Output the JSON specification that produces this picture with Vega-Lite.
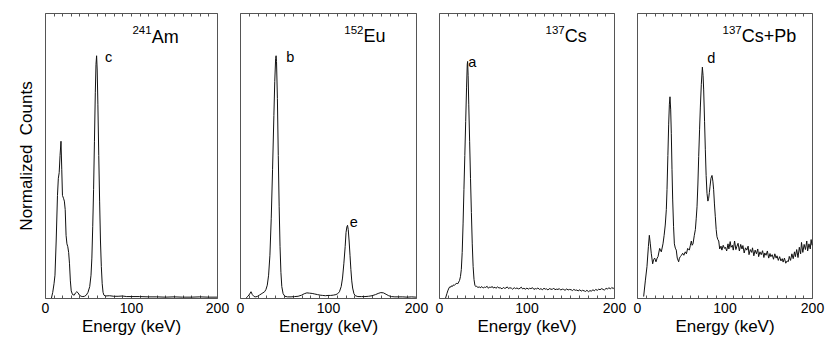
{
"$schema": "https://vega.github.io/schema/vega-lite/v6.json",
"padding": {"left": 16, "top": 12, "right": 0, "bottom": 0},
"config": {
  "font": "Liberation Sans",
  "view": {"stroke": "#555", "strokeWidth": 1},
  "axis": {"labelFont": "Liberation Sans", "titleFont": "Liberation Sans", "labelColor": "black", "titleColor": "black", "titleFontWeight": "normal", "labelFontSize": 14, "titleFontSize": 17, "grid": false, "domain": false},
  "axisBottom": {"titleFontWeight": "normal"},
  "text": {"font": "Liberation Sans", "color": "black"}
},
"datasets": {
  "labels": [
    {"panel": "Am", "x": 124, "y": 0.895, "sup": "241", "main": "Am"},
    {"panel": "Eu", "x": 140.3, "y": 0.897, "sup": "152", "main": "Eu"},
    {"panel": "Cs", "x": 143.7, "y": 0.897, "sup": "137", "main": "Cs"},
    {"panel": "CsPb", "x": 119.7, "y": 0.898, "sup": "137", "main": "Cs+Pb"}
  ],
  "peaks": [
    {"panel": "Am", "x": 69.8, "y": 0.828, "tag": "c"},
    {"panel": "Eu", "x": 52.5, "y": 0.828, "tag": "b"},
    {"panel": "Eu", "x": 124.7, "y": 0.249, "tag": "e"},
    {"panel": "Cs", "x": 33.4, "y": 0.81, "tag": "a"},
    {"panel": "CsPb", "x": 80.3, "y": 0.826, "tag": "d"}
  ],
  "spectra": [
    {"panel":"Am","energy":7.5,"counts":0.0},
    {"panel":"Am","energy":9,"counts":0.02},
    {"panel":"Am","energy":10.5,"counts":0.05},
    {"panel":"Am","energy":11.6,"counts":0.08},
    {"panel":"Am","energy":13,"counts":0.2},
    {"panel":"Am","energy":14.5,"counts":0.36},
    {"panel":"Am","energy":15.5,"counts":0.42},
    {"panel":"Am","energy":16.5,"counts":0.44},
    {"panel":"Am","energy":17.5,"counts":0.5},
    {"panel":"Am","energy":18.6,"counts":0.55},
    {"panel":"Am","energy":19.5,"counts":0.45},
    {"panel":"Am","energy":20.3,"counts":0.36},
    {"panel":"Am","energy":21.5,"counts":0.35},
    {"panel":"Am","energy":22.5,"counts":0.34},
    {"panel":"Am","energy":23.5,"counts":0.31},
    {"panel":"Am","energy":24.5,"counts":0.22},
    {"panel":"Am","energy":25.5,"counts":0.19},
    {"panel":"Am","energy":26.5,"counts":0.18},
    {"panel":"Am","energy":27.5,"counts":0.16},
    {"panel":"Am","energy":28.5,"counts":0.12},
    {"panel":"Am","energy":29.5,"counts":0.06},
    {"panel":"Am","energy":30.5,"counts":0.025},
    {"panel":"Am","energy":32,"counts":0.012},
    {"panel":"Am","energy":34,"counts":0.01},
    {"panel":"Am","energy":35.5,"counts":0.018},
    {"panel":"Am","energy":37,"counts":0.022},
    {"panel":"Am","energy":38.5,"counts":0.018},
    {"panel":"Am","energy":40,"counts":0.01},
    {"panel":"Am","energy":42,"counts":0.006},
    {"panel":"Am","energy":44,"counts":0.005},
    {"panel":"Am","energy":46,"counts":0.006},
    {"panel":"Am","energy":48,"counts":0.01},
    {"panel":"Am","energy":50,"counts":0.02},
    {"panel":"Am","energy":52,"counts":0.04},
    {"panel":"Am","energy":53.5,"counts":0.08},
    {"panel":"Am","energy":54.5,"counts":0.14},
    {"panel":"Am","energy":55.5,"counts":0.25},
    {"panel":"Am","energy":56.5,"counts":0.38},
    {"panel":"Am","energy":57.5,"counts":0.55},
    {"panel":"Am","energy":58.5,"counts":0.72},
    {"panel":"Am","energy":59.3,"counts":0.82},
    {"panel":"Am","energy":60,"counts":0.85},
    {"panel":"Am","energy":60.7,"counts":0.8},
    {"panel":"Am","energy":61.5,"counts":0.68},
    {"panel":"Am","energy":62.5,"counts":0.5},
    {"panel":"Am","energy":63.5,"counts":0.34},
    {"panel":"Am","energy":64.5,"counts":0.2},
    {"panel":"Am","energy":65.5,"counts":0.11},
    {"panel":"Am","energy":66.5,"counts":0.05},
    {"panel":"Am","energy":67.5,"counts":0.02},
    {"panel":"Am","energy":68.5,"counts":0.01},
    {"panel":"Am","energy":70,"counts":0.007},
    {"panel":"Am","energy":75,"counts":0.008},
    {"panel":"Am","energy":80,"counts":0.006},
    {"panel":"Am","energy":85,"counts":0.006},
    {"panel":"Am","energy":90,"counts":0.007},
    {"panel":"Am","energy":95,"counts":0.005},
    {"panel":"Am","energy":100,"counts":0.005},
    {"panel":"Am","energy":110,"counts":0.005},
    {"panel":"Am","energy":120,"counts":0.004},
    {"panel":"Am","energy":130,"counts":0.004},
    {"panel":"Am","energy":140,"counts":0.003},
    {"panel":"Am","energy":150,"counts":0.004},
    {"panel":"Am","energy":160,"counts":0.003},
    {"panel":"Am","energy":170,"counts":0.003},
    {"panel":"Am","energy":180,"counts":0.004},
    {"panel":"Am","energy":190,"counts":0.003},
    {"panel":"Am","energy":200,"counts":0.003},

    {"panel":"Eu","energy":7,"counts":0.0},
    {"panel":"Eu","energy":9,"counts":0.006},
    {"panel":"Eu","energy":11,"counts":0.014},
    {"panel":"Eu","energy":12.5,"counts":0.022},
    {"panel":"Eu","energy":14,"counts":0.012},
    {"panel":"Eu","energy":16,"counts":0.005},
    {"panel":"Eu","energy":18,"counts":0.004},
    {"panel":"Eu","energy":20,"counts":0.006},
    {"panel":"Eu","energy":22,"counts":0.01},
    {"panel":"Eu","energy":24,"counts":0.014},
    {"panel":"Eu","energy":26,"counts":0.018},
    {"panel":"Eu","energy":28,"counts":0.022},
    {"panel":"Eu","energy":29.5,"counts":0.03},
    {"panel":"Eu","energy":31,"counts":0.045},
    {"panel":"Eu","energy":32.5,"counts":0.08},
    {"panel":"Eu","energy":34,"counts":0.15},
    {"panel":"Eu","energy":35.5,"counts":0.28},
    {"panel":"Eu","energy":37,"counts":0.45},
    {"panel":"Eu","energy":38.5,"counts":0.64},
    {"panel":"Eu","energy":39.5,"counts":0.76},
    {"panel":"Eu","energy":40.5,"counts":0.84},
    {"panel":"Eu","energy":41,"counts":0.85},
    {"panel":"Eu","energy":41.5,"counts":0.83},
    {"panel":"Eu","energy":42.5,"counts":0.7},
    {"panel":"Eu","energy":43.5,"counts":0.5},
    {"panel":"Eu","energy":44.5,"counts":0.32},
    {"panel":"Eu","energy":45.5,"counts":0.18},
    {"panel":"Eu","energy":46.5,"counts":0.09},
    {"panel":"Eu","energy":47.5,"counts":0.04},
    {"panel":"Eu","energy":49,"counts":0.015},
    {"panel":"Eu","energy":51,"counts":0.006},
    {"panel":"Eu","energy":54,"counts":0.004},
    {"panel":"Eu","energy":58,"counts":0.004},
    {"panel":"Eu","energy":62,"counts":0.005},
    {"panel":"Eu","energy":66,"counts":0.006},
    {"panel":"Eu","energy":70,"counts":0.01},
    {"panel":"Eu","energy":73,"counts":0.015},
    {"panel":"Eu","energy":76,"counts":0.018},
    {"panel":"Eu","energy":79,"counts":0.017},
    {"panel":"Eu","energy":82,"counts":0.016},
    {"panel":"Eu","energy":85,"counts":0.014},
    {"panel":"Eu","energy":88,"counts":0.012},
    {"panel":"Eu","energy":91,"counts":0.01},
    {"panel":"Eu","energy":94,"counts":0.009},
    {"panel":"Eu","energy":97,"counts":0.008},
    {"panel":"Eu","energy":100,"counts":0.009},
    {"panel":"Eu","energy":103,"counts":0.009},
    {"panel":"Eu","energy":106,"counts":0.01},
    {"panel":"Eu","energy":109,"counts":0.012},
    {"panel":"Eu","energy":111,"counts":0.015},
    {"panel":"Eu","energy":113,"counts":0.022},
    {"panel":"Eu","energy":115,"counts":0.04},
    {"panel":"Eu","energy":116.5,"counts":0.07},
    {"panel":"Eu","energy":118,"counts":0.12},
    {"panel":"Eu","energy":119.5,"counts":0.18},
    {"panel":"Eu","energy":120.5,"counts":0.23},
    {"panel":"Eu","energy":121.5,"counts":0.25},
    {"panel":"Eu","energy":122.2,"counts":0.255},
    {"panel":"Eu","energy":123,"counts":0.24},
    {"panel":"Eu","energy":124,"counts":0.2},
    {"panel":"Eu","energy":125,"counts":0.15},
    {"panel":"Eu","energy":126,"counts":0.1},
    {"panel":"Eu","energy":127,"counts":0.06},
    {"panel":"Eu","energy":128,"counts":0.035},
    {"panel":"Eu","energy":129.5,"counts":0.015},
    {"panel":"Eu","energy":131,"counts":0.008},
    {"panel":"Eu","energy":134,"counts":0.005},
    {"panel":"Eu","energy":138,"counts":0.005},
    {"panel":"Eu","energy":142,"counts":0.005},
    {"panel":"Eu","energy":146,"counts":0.006},
    {"panel":"Eu","energy":150,"counts":0.008},
    {"panel":"Eu","energy":154,"counts":0.012},
    {"panel":"Eu","energy":157,"counts":0.016},
    {"panel":"Eu","energy":160,"counts":0.019},
    {"panel":"Eu","energy":163,"counts":0.018},
    {"panel":"Eu","energy":166,"counts":0.013},
    {"panel":"Eu","energy":169,"counts":0.008},
    {"panel":"Eu","energy":172,"counts":0.005},
    {"panel":"Eu","energy":176,"counts":0.004},
    {"panel":"Eu","energy":180,"counts":0.004},
    {"panel":"Eu","energy":185,"counts":0.004},
    {"panel":"Eu","energy":190,"counts":0.003},
    {"panel":"Eu","energy":195,"counts":0.004},
    {"panel":"Eu","energy":200,"counts":0.003},

    {"panel":"Cs","energy":7.5,"counts":0.0},
    {"panel":"Cs","energy":9,"counts":0.015},
    {"panel":"Cs","energy":10,"counts":0.025},
    {"panel":"Cs","energy":11.4,"counts":0.035},
    {"panel":"Cs","energy":12.5,"counts":0.04},
    {"panel":"Cs","energy":13.5,"counts":0.038},
    {"panel":"Cs","energy":14.5,"counts":0.043},
    {"panel":"Cs","energy":15.5,"counts":0.041},
    {"panel":"Cs","energy":16.5,"counts":0.046},
    {"panel":"Cs","energy":17.5,"counts":0.044},
    {"panel":"Cs","energy":18.5,"counts":0.048},
    {"panel":"Cs","energy":19.5,"counts":0.05},
    {"panel":"Cs","energy":20.5,"counts":0.052},
    {"panel":"Cs","energy":21.5,"counts":0.05},
    {"panel":"Cs","energy":22.5,"counts":0.056},
    {"panel":"Cs","energy":23.5,"counts":0.062},
    {"panel":"Cs","energy":24.5,"counts":0.075},
    {"panel":"Cs","energy":25.5,"counts":0.1},
    {"panel":"Cs","energy":26.5,"counts":0.16},
    {"panel":"Cs","energy":27.5,"counts":0.26},
    {"panel":"Cs","energy":28.5,"counts":0.38},
    {"panel":"Cs","energy":29.5,"counts":0.5},
    {"panel":"Cs","energy":30.5,"counts":0.62},
    {"panel":"Cs","energy":31.5,"counts":0.74},
    {"panel":"Cs","energy":32.3,"counts":0.82},
    {"panel":"Cs","energy":32.7,"counts":0.83},
    {"panel":"Cs","energy":33.3,"counts":0.78},
    {"panel":"Cs","energy":34,"counts":0.68},
    {"panel":"Cs","energy":35,"counts":0.55},
    {"panel":"Cs","energy":36,"counts":0.42},
    {"panel":"Cs","energy":37,"counts":0.3},
    {"panel":"Cs","energy":38,"counts":0.19},
    {"panel":"Cs","energy":39,"counts":0.11},
    {"panel":"Cs","energy":40,"counts":0.065},
    {"panel":"Cs","energy":41,"counts":0.045},
    {"panel":"Cs","energy":42,"counts":0.04},
    {"panel":"Cs","energy":43,"counts":0.041},
    {"panel":"Cs","energy":44.5,"counts":0.037},
    {"panel":"Cs","energy":46,"counts":0.039},
    {"panel":"Cs","energy":47,"counts":0.036},
    {"panel":"Cs","energy":49,"counts":0.04},
    {"panel":"Cs","energy":50.5,"counts":0.035},
    {"panel":"Cs","energy":52,"counts":0.038},
    {"panel":"Cs","energy":53,"counts":0.037},
    {"panel":"Cs","energy":55,"counts":0.041},
    {"panel":"Cs","energy":56.5,"counts":0.034},
    {"panel":"Cs","energy":58,"counts":0.039},
    {"panel":"Cs","energy":59,"counts":0.037},
    {"panel":"Cs","energy":61,"counts":0.04},
    {"panel":"Cs","energy":62,"counts":0.035},
    {"panel":"Cs","energy":64,"counts":0.038},
    {"panel":"Cs","energy":65,"counts":0.034},
    {"panel":"Cs","energy":67,"counts":0.039},
    {"panel":"Cs","energy":68.5,"counts":0.035},
    {"panel":"Cs","energy":70,"counts":0.036},
    {"panel":"Cs","energy":72,"counts":0.032},
    {"panel":"Cs","energy":73.5,"counts":0.037},
    {"panel":"Cs","energy":75,"counts":0.034},
    {"panel":"Cs","energy":76.5,"counts":0.035},
    {"panel":"Cs","energy":78,"counts":0.039},
    {"panel":"Cs","energy":79.5,"counts":0.033},
    {"panel":"Cs","energy":81,"counts":0.036},
    {"panel":"Cs","energy":83,"counts":0.034},
    {"panel":"Cs","energy":84,"counts":0.031},
    {"panel":"Cs","energy":86,"counts":0.036},
    {"panel":"Cs","energy":87.5,"counts":0.033},
    {"panel":"Cs","energy":89,"counts":0.035},
    {"panel":"Cs","energy":91,"counts":0.032},
    {"panel":"Cs","energy":92.5,"counts":0.034},
    {"panel":"Cs","energy":94,"counts":0.038},
    {"panel":"Cs","energy":95.5,"counts":0.032},
    {"panel":"Cs","energy":97,"counts":0.034},
    {"panel":"Cs","energy":99,"counts":0.031},
    {"panel":"Cs","energy":100.5,"counts":0.035},
    {"panel":"Cs","energy":102,"counts":0.031},
    {"panel":"Cs","energy":103.5,"counts":0.034},
    {"panel":"Cs","energy":105,"counts":0.033},
    {"panel":"Cs","energy":107,"counts":0.036},
    {"panel":"Cs","energy":108.5,"counts":0.03},
    {"panel":"Cs","energy":110,"counts":0.033},
    {"panel":"Cs","energy":111.5,"counts":0.032},
    {"panel":"Cs","energy":113,"counts":0.035},
    {"panel":"Cs","energy":115,"counts":0.03},
    {"panel":"Cs","energy":116.5,"counts":0.033},
    {"panel":"Cs","energy":118,"counts":0.029},
    {"panel":"Cs","energy":120,"counts":0.034},
    {"panel":"Cs","energy":121.5,"counts":0.031},
    {"panel":"Cs","energy":123,"counts":0.032},
    {"panel":"Cs","energy":124.5,"counts":0.028},
    {"panel":"Cs","energy":126,"counts":0.033},
    {"panel":"Cs","energy":128,"counts":0.031},
    {"panel":"Cs","energy":129.5,"counts":0.03},
    {"panel":"Cs","energy":131,"counts":0.035},
    {"panel":"Cs","energy":132.5,"counts":0.029},
    {"panel":"Cs","energy":134,"counts":0.031},
    {"panel":"Cs","energy":136,"counts":0.03},
    {"panel":"Cs","energy":137.5,"counts":0.033},
    {"panel":"Cs","energy":139,"counts":0.028},
    {"panel":"Cs","energy":141,"counts":0.031},
    {"panel":"Cs","energy":142.5,"counts":0.03},
    {"panel":"Cs","energy":144,"counts":0.027},
    {"panel":"Cs","energy":146,"counts":0.032},
    {"panel":"Cs","energy":147.5,"counts":0.028},
    {"panel":"Cs","energy":149,"counts":0.03},
    {"panel":"Cs","energy":151,"counts":0.029},
    {"panel":"Cs","energy":152.5,"counts":0.026},
    {"panel":"Cs","energy":154,"counts":0.03},
    {"panel":"Cs","energy":156,"counts":0.027},
    {"panel":"Cs","energy":157.5,"counts":0.028},
    {"panel":"Cs","energy":159,"counts":0.025},
    {"panel":"Cs","energy":161,"counts":0.029},
    {"panel":"Cs","energy":162.5,"counts":0.024},
    {"panel":"Cs","energy":164,"counts":0.027},
    {"panel":"Cs","energy":166,"counts":0.025},
    {"panel":"Cs","energy":167.5,"counts":0.023},
    {"panel":"Cs","energy":169,"counts":0.027},
    {"panel":"Cs","energy":171,"counts":0.022},
    {"panel":"Cs","energy":172.5,"counts":0.026},
    {"panel":"Cs","energy":174,"counts":0.024},
    {"panel":"Cs","energy":176,"counts":0.029},
    {"panel":"Cs","energy":177.5,"counts":0.025},
    {"panel":"Cs","energy":179,"counts":0.03},
    {"panel":"Cs","energy":181,"counts":0.027},
    {"panel":"Cs","energy":182.5,"counts":0.031},
    {"panel":"Cs","energy":184,"counts":0.029},
    {"panel":"Cs","energy":186,"counts":0.033},
    {"panel":"Cs","energy":187.5,"counts":0.03},
    {"panel":"Cs","energy":189,"counts":0.028},
    {"panel":"Cs","energy":191,"counts":0.034},
    {"panel":"Cs","energy":192.5,"counts":0.031},
    {"panel":"Cs","energy":194,"counts":0.036},
    {"panel":"Cs","energy":196,"counts":0.032},
    {"panel":"Cs","energy":197.5,"counts":0.037},
    {"panel":"Cs","energy":199,"counts":0.033},
    {"panel":"Cs","energy":200,"counts":0.036},

    {"panel":"CsPb","energy":7.6,"counts":0.005},
    {"panel":"CsPb","energy":9.5,"counts":0.06},
    {"panel":"CsPb","energy":11.4,"counts":0.11},
    {"panel":"CsPb","energy":13,"counts":0.18},
    {"panel":"CsPb","energy":14.1,"counts":0.22},
    {"panel":"CsPb","energy":15.2,"counts":0.19},
    {"panel":"CsPb","energy":16.3,"counts":0.157},
    {"panel":"CsPb","energy":17.9,"counts":0.12},
    {"panel":"CsPb","energy":19,"counts":0.135},
    {"panel":"CsPb","energy":20.2,"counts":0.14},
    {"panel":"CsPb","energy":21.7,"counts":0.127},
    {"panel":"CsPb","energy":23,"counts":0.14},
    {"panel":"CsPb","energy":24,"counts":0.145},
    {"panel":"CsPb","energy":25.9,"counts":0.174},
    {"panel":"CsPb","energy":27.8,"counts":0.162},
    {"panel":"CsPb","energy":29.7,"counts":0.19},
    {"panel":"CsPb","energy":31,"counts":0.22},
    {"panel":"CsPb","energy":32.3,"counts":0.256},
    {"panel":"CsPb","energy":33.5,"counts":0.31},
    {"panel":"CsPb","energy":34.3,"counts":0.38},
    {"panel":"CsPb","energy":35.3,"counts":0.5},
    {"panel":"CsPb","energy":36.2,"counts":0.61},
    {"panel":"CsPb","energy":37,"counts":0.68},
    {"panel":"CsPb","energy":37.7,"counts":0.706},
    {"panel":"CsPb","energy":38.5,"counts":0.66},
    {"panel":"CsPb","energy":39.2,"counts":0.578},
    {"panel":"CsPb","energy":40,"counts":0.45},
    {"panel":"CsPb","energy":40.8,"counts":0.344},
    {"panel":"CsPb","energy":41.8,"counts":0.25},
    {"panel":"CsPb","energy":42.7,"counts":0.19},
    {"panel":"CsPb","energy":43.8,"counts":0.175},
    {"panel":"CsPb","energy":44.9,"counts":0.168},
    {"panel":"CsPb","energy":46,"counts":0.14},
    {"panel":"CsPb","energy":47.6,"counts":0.127},
    {"panel":"CsPb","energy":48.5,"counts":0.14},
    {"panel":"CsPb","energy":49.5,"counts":0.145},
    {"panel":"CsPb","energy":50.8,"counts":0.15},
    {"panel":"CsPb","energy":52.2,"counts":0.157},
    {"panel":"CsPb","energy":53.5,"counts":0.15},
    {"panel":"CsPb","energy":55.2,"counts":0.162},
    {"panel":"CsPb","energy":56.5,"counts":0.155},
    {"panel":"CsPb","energy":57.9,"counts":0.174},
    {"panel":"CsPb","energy":59.8,"counts":0.168},
    {"panel":"CsPb","energy":61,"counts":0.185},
    {"panel":"CsPb","energy":62.1,"counts":0.2},
    {"panel":"CsPb","energy":63,"counts":0.185},
    {"panel":"CsPb","energy":64,"counts":0.19},
    {"panel":"CsPb","energy":65.5,"counts":0.22},
    {"panel":"CsPb","energy":66.7,"counts":0.24},
    {"panel":"CsPb","energy":67.7,"counts":0.28},
    {"panel":"CsPb","energy":68.6,"counts":0.32},
    {"panel":"CsPb","energy":69.6,"counts":0.4},
    {"panel":"CsPb","energy":70.5,"counts":0.496},
    {"panel":"CsPb","energy":71.5,"counts":0.59},
    {"panel":"CsPb","energy":72.4,"counts":0.67},
    {"panel":"CsPb","energy":73.5,"counts":0.75},
    {"panel":"CsPb","energy":74.7,"counts":0.81},
    {"panel":"CsPb","energy":75.5,"counts":0.78},
    {"panel":"CsPb","energy":76.2,"counts":0.73},
    {"panel":"CsPb","energy":77.2,"counts":0.62},
    {"panel":"CsPb","energy":78.1,"counts":0.52},
    {"panel":"CsPb","energy":79,"counts":0.43},
    {"panel":"CsPb","energy":80,"counts":0.367},
    {"panel":"CsPb","energy":81,"counts":0.34},
    {"panel":"CsPb","energy":81.9,"counts":0.35},
    {"panel":"CsPb","energy":82.7,"counts":0.37},
    {"panel":"CsPb","energy":83.4,"counts":0.39},
    {"panel":"CsPb","energy":84.5,"counts":0.42},
    {"panel":"CsPb","energy":85.7,"counts":0.43},
    {"panel":"CsPb","energy":86.7,"counts":0.41},
    {"panel":"CsPb","energy":87.6,"counts":0.38},
    {"panel":"CsPb","energy":88.5,"counts":0.33},
    {"panel":"CsPb","energy":89.5,"counts":0.285},
    {"panel":"CsPb","energy":90.5,"counts":0.24},
    {"panel":"CsPb","energy":91.4,"counts":0.215},
    {"panel":"CsPb","energy":92.4,"counts":0.205},
    {"panel":"CsPb","energy":93.4,"counts":0.2},
    {"panel":"CsPb","energy":94.5,"counts":0.172},
    {"panel":"CsPb","energy":96,"counts":0.182},
    {"panel":"CsPb","energy":97,"counts":0.168},
    {"panel":"CsPb","energy":98.5,"counts":0.185},
    {"panel":"CsPb","energy":100,"counts":0.174},
    {"panel":"CsPb","energy":101,"counts":0.178},
    {"panel":"CsPb","energy":102.5,"counts":0.165},
    {"panel":"CsPb","energy":104,"counts":0.19},
    {"panel":"CsPb","energy":105,"counts":0.172},
    {"panel":"CsPb","energy":106.5,"counts":0.198},
    {"panel":"CsPb","energy":107.5,"counts":0.178},
    {"panel":"CsPb","energy":109,"counts":0.185},
    {"panel":"CsPb","energy":110,"counts":0.168},
    {"panel":"CsPb","energy":111.5,"counts":0.2},
    {"panel":"CsPb","energy":113,"counts":0.17},
    {"panel":"CsPb","energy":114,"counts":0.18},
    {"panel":"CsPb","energy":115.5,"counts":0.192},
    {"panel":"CsPb","energy":117,"counts":0.165},
    {"panel":"CsPb","energy":118.5,"counts":0.188},
    {"panel":"CsPb","energy":120,"counts":0.172},
    {"panel":"CsPb","energy":121,"counts":0.184},
    {"panel":"CsPb","energy":122.5,"counts":0.158},
    {"panel":"CsPb","energy":124,"counts":0.176},
    {"panel":"CsPb","energy":125.5,"counts":0.168},
    {"panel":"CsPb","energy":127,"counts":0.182},
    {"panel":"CsPb","energy":128,"counts":0.152},
    {"panel":"CsPb","energy":129.5,"counts":0.17},
    {"panel":"CsPb","energy":131,"counts":0.16},
    {"panel":"CsPb","energy":132,"counts":0.176},
    {"panel":"CsPb","energy":133.5,"counts":0.148},
    {"panel":"CsPb","energy":135,"counts":0.168},
    {"panel":"CsPb","energy":136.5,"counts":0.155},
    {"panel":"CsPb","energy":138,"counts":0.172},
    {"panel":"CsPb","energy":139,"counts":0.145},
    {"panel":"CsPb","energy":140.5,"counts":0.162},
    {"panel":"CsPb","energy":142,"counts":0.152},
    {"panel":"CsPb","energy":143.5,"counts":0.166},
    {"panel":"CsPb","energy":145,"counts":0.142},
    {"panel":"CsPb","energy":146,"counts":0.158},
    {"panel":"CsPb","energy":147.5,"counts":0.15},
    {"panel":"CsPb","energy":149,"counts":0.165},
    {"panel":"CsPb","energy":150.5,"counts":0.14},
    {"panel":"CsPb","energy":152,"counts":0.156},
    {"panel":"CsPb","energy":153,"counts":0.145},
    {"panel":"CsPb","energy":154.5,"counts":0.152},
    {"panel":"CsPb","energy":156,"counts":0.136},
    {"panel":"CsPb","energy":157.5,"counts":0.155},
    {"panel":"CsPb","energy":159,"counts":0.14},
    {"panel":"CsPb","energy":160,"counts":0.148},
    {"panel":"CsPb","energy":161.5,"counts":0.132},
    {"panel":"CsPb","energy":163,"counts":0.145},
    {"panel":"CsPb","energy":164.5,"counts":0.13},
    {"panel":"CsPb","energy":166,"counts":0.138},
    {"panel":"CsPb","energy":167,"counts":0.126},
    {"panel":"CsPb","energy":168.5,"counts":0.14},
    {"panel":"CsPb","energy":170,"counts":0.122},
    {"panel":"CsPb","energy":171.5,"counts":0.13},
    {"panel":"CsPb","energy":173,"counts":0.128},
    {"panel":"CsPb","energy":174,"counts":0.146},
    {"panel":"CsPb","energy":175.5,"counts":0.132},
    {"panel":"CsPb","energy":177,"counts":0.155},
    {"panel":"CsPb","energy":178.5,"counts":0.138},
    {"panel":"CsPb","energy":180,"counts":0.162},
    {"panel":"CsPb","energy":181,"counts":0.145},
    {"panel":"CsPb","energy":182.5,"counts":0.17},
    {"panel":"CsPb","energy":184,"counts":0.142},
    {"panel":"CsPb","energy":185.5,"counts":0.178},
    {"panel":"CsPb","energy":187,"counts":0.155},
    {"panel":"CsPb","energy":188,"counts":0.195},
    {"panel":"CsPb","energy":189.5,"counts":0.16},
    {"panel":"CsPb","energy":191,"counts":0.188},
    {"panel":"CsPb","energy":192.5,"counts":0.17},
    {"panel":"CsPb","energy":194,"counts":0.2},
    {"panel":"CsPb","energy":195,"counts":0.165},
    {"panel":"CsPb","energy":196.5,"counts":0.19},
    {"panel":"CsPb","energy":198,"counts":0.172},
    {"panel":"CsPb","energy":199,"counts":0.205},
    {"panel":"CsPb","energy":200,"counts":0.185}
  ]
},
"bounds": "flush",
"spacing": 23,
"hconcat": [
  {"width": 172, "height": 285,
   "resolve": {"axis": {"x": "independent", "y": "independent"}},
   "layer": [
    {"data": {"name": "spectra"}, "transform": [{"filter": "datum.panel === 'Am'"}],
     "mark": {"type": "line", "color": "#111", "strokeWidth": 1},
     "encoding": {
      "x": {"field": "energy", "type": "quantitative", "scale": {"domain": [0, 200], "nice": false},
            "axis": {"orient": "bottom", "title": "Energy (keV)", "titleFontWeight": "normal", "values": [0,10,20,30,40,50,60,70,80,90,100,110,120,130,140,150,160,170,180,190,200], "labelExpr": "datum.value % 100 === 0 ? datum.label : ''", "labelFlush": false, "labelOverlap": false, "tickSize": -3, "tickColor": "#555", "labelPadding": 6, "titlePadding": 3}},
      "y": {"field": "counts", "type": "quantitative", "scale": {"domain": [0, 1], "nice": false},
            "axis": {"title": "Normalized\u00a0 Counts", "titleFontWeight": "normal", "labels": false, "ticks": false, "titlePadding": 10}}}},
    {"data": {"name": "spectra"}, "transform": [{"filter": "datum.panel === 'Am'"}],
     "mark": {"type": "line", "opacity": 0},
     "encoding": {
      "x": {"field": "energy", "type": "quantitative", "scale": {"domain": [0, 200], "nice": false},
            "axis": {"orient": "top", "title": null, "values": [0,10,20,30,40,50,60,70,80,90,100,110,120,130,140,150,160,170,180,190,200], "labels": false, "tickSize": -3, "tickColor": "#555"}},
      "y": {"field": "counts", "type": "quantitative", "scale": {"domain": [0, 1], "nice": false}, "axis": null}}},
    {"data": {"name": "labels"}, "transform": [{"filter": "datum.panel === 'Am'"}],
     "mark": {"type": "text", "align": "left", "baseline": "alphabetic", "fontSize": 18},
     "encoding": {
      "x": {"field": "x", "type": "quantitative", "scale": {"domain": [0, 200], "nice": false}, "axis": null},
      "y": {"field": "y", "type": "quantitative", "scale": {"domain": [0, 1], "nice": false}, "axis": null},
      "text": {"field": "main"}}},
    {"data": {"name": "labels"}, "transform": [{"filter": "datum.panel === 'Am'"}],
     "mark": {"type": "text", "align": "right", "baseline": "alphabetic", "fontSize": 11.5, "dy": -8.5},
     "encoding": {
      "x": {"field": "x", "type": "quantitative", "scale": {"domain": [0, 200], "nice": false}, "axis": null},
      "y": {"field": "y", "type": "quantitative", "scale": {"domain": [0, 1], "nice": false}, "axis": null},
      "text": {"field": "sup"}}},
    {"data": {"name": "peaks"}, "transform": [{"filter": "datum.panel === 'Am'"}],
     "mark": {"type": "text", "align": "left", "baseline": "alphabetic", "fontSize": 14.5},
     "encoding": {
      "x": {"field": "x", "type": "quantitative", "scale": {"domain": [0, 200], "nice": false}, "axis": null},
      "y": {"field": "y", "type": "quantitative", "scale": {"domain": [0, 1], "nice": false}, "axis": null},
      "text": {"field": "tag"}}}
   ]},
  {"width": 176, "height": 285,
   "resolve": {"axis": {"x": "independent", "y": "independent"}},
   "layer": [
    {"data": {"name": "spectra"}, "transform": [{"filter": "datum.panel === 'Eu'"}],
     "mark": {"type": "line", "color": "#111", "strokeWidth": 1},
     "encoding": {
      "x": {"field": "energy", "type": "quantitative", "scale": {"domain": [0, 200], "nice": false},
            "axis": {"orient": "bottom", "title": "Energy (keV)", "titleFontWeight": "normal", "values": [0,10,20,30,40,50,60,70,80,90,100,110,120,130,140,150,160,170,180,190,200], "labelExpr": "datum.value % 100 === 0 ? datum.label : ''", "labelFlush": false, "labelOverlap": false, "tickSize": -3, "tickColor": "#555", "labelPadding": 6, "titlePadding": 3}},
      "y": {"field": "counts", "type": "quantitative", "scale": {"domain": [0, 1], "nice": false}, "axis": null}}},
    {"data": {"name": "spectra"}, "transform": [{"filter": "datum.panel === 'Eu'"}],
     "mark": {"type": "line", "opacity": 0},
     "encoding": {
      "x": {"field": "energy", "type": "quantitative", "scale": {"domain": [0, 200], "nice": false},
            "axis": {"orient": "top", "title": null, "values": [0,10,20,30,40,50,60,70,80,90,100,110,120,130,140,150,160,170,180,190,200], "labels": false, "tickSize": -3, "tickColor": "#555"}},
      "y": {"field": "counts", "type": "quantitative", "scale": {"domain": [0, 1], "nice": false}, "axis": null}}},
    {"data": {"name": "labels"}, "transform": [{"filter": "datum.panel === 'Eu'"}],
     "mark": {"type": "text", "align": "left", "baseline": "alphabetic", "fontSize": 18},
     "encoding": {
      "x": {"field": "x", "type": "quantitative", "scale": {"domain": [0, 200], "nice": false}, "axis": null},
      "y": {"field": "y", "type": "quantitative", "scale": {"domain": [0, 1], "nice": false}, "axis": null},
      "text": {"field": "main"}}},
    {"data": {"name": "labels"}, "transform": [{"filter": "datum.panel === 'Eu'"}],
     "mark": {"type": "text", "align": "right", "baseline": "alphabetic", "fontSize": 11.5, "dy": -8.5},
     "encoding": {
      "x": {"field": "x", "type": "quantitative", "scale": {"domain": [0, 200], "nice": false}, "axis": null},
      "y": {"field": "y", "type": "quantitative", "scale": {"domain": [0, 1], "nice": false}, "axis": null},
      "text": {"field": "sup"}}},
    {"data": {"name": "peaks"}, "transform": [{"filter": "datum.panel === 'Eu'"}],
     "mark": {"type": "text", "align": "left", "baseline": "alphabetic", "fontSize": 14.5},
     "encoding": {
      "x": {"field": "x", "type": "quantitative", "scale": {"domain": [0, 200], "nice": false}, "axis": null},
      "y": {"field": "y", "type": "quantitative", "scale": {"domain": [0, 1], "nice": false}, "axis": null},
      "text": {"field": "tag"}}}
   ]},
  {"width": 175, "height": 285,
   "resolve": {"axis": {"x": "independent", "y": "independent"}},
   "layer": [
    {"data": {"name": "spectra"}, "transform": [{"filter": "datum.panel === 'Cs'"}],
     "mark": {"type": "line", "color": "#111", "strokeWidth": 1},
     "encoding": {
      "x": {"field": "energy", "type": "quantitative", "scale": {"domain": [0, 200], "nice": false},
            "axis": {"orient": "bottom", "title": "Energy (keV)", "titleFontWeight": "normal", "values": [0,10,20,30,40,50,60,70,80,90,100,110,120,130,140,150,160,170,180,190,200], "labelExpr": "datum.value % 100 === 0 ? datum.label : ''", "labelFlush": false, "labelOverlap": false, "tickSize": -3, "tickColor": "#555", "labelPadding": 6, "titlePadding": 3}},
      "y": {"field": "counts", "type": "quantitative", "scale": {"domain": [0, 1], "nice": false}, "axis": null}}},
    {"data": {"name": "spectra"}, "transform": [{"filter": "datum.panel === 'Cs'"}],
     "mark": {"type": "line", "opacity": 0},
     "encoding": {
      "x": {"field": "energy", "type": "quantitative", "scale": {"domain": [0, 200], "nice": false},
            "axis": {"orient": "top", "title": null, "values": [0,10,20,30,40,50,60,70,80,90,100,110,120,130,140,150,160,170,180,190,200], "labels": false, "tickSize": -3, "tickColor": "#555"}},
      "y": {"field": "counts", "type": "quantitative", "scale": {"domain": [0, 1], "nice": false}, "axis": null}}},
    {"data": {"name": "labels"}, "transform": [{"filter": "datum.panel === 'Cs'"}],
     "mark": {"type": "text", "align": "left", "baseline": "alphabetic", "fontSize": 18},
     "encoding": {
      "x": {"field": "x", "type": "quantitative", "scale": {"domain": [0, 200], "nice": false}, "axis": null},
      "y": {"field": "y", "type": "quantitative", "scale": {"domain": [0, 1], "nice": false}, "axis": null},
      "text": {"field": "main"}}},
    {"data": {"name": "labels"}, "transform": [{"filter": "datum.panel === 'Cs'"}],
     "mark": {"type": "text", "align": "right", "baseline": "alphabetic", "fontSize": 11.5, "dy": -8.5},
     "encoding": {
      "x": {"field": "x", "type": "quantitative", "scale": {"domain": [0, 200], "nice": false}, "axis": null},
      "y": {"field": "y", "type": "quantitative", "scale": {"domain": [0, 1], "nice": false}, "axis": null},
      "text": {"field": "sup"}}},
    {"data": {"name": "peaks"}, "transform": [{"filter": "datum.panel === 'Cs'"}],
     "mark": {"type": "text", "align": "left", "baseline": "alphabetic", "fontSize": 14.5},
     "encoding": {
      "x": {"field": "x", "type": "quantitative", "scale": {"domain": [0, 200], "nice": false}, "axis": null},
      "y": {"field": "y", "type": "quantitative", "scale": {"domain": [0, 1], "nice": false}, "axis": null},
      "text": {"field": "tag"}}}
   ]},
  {"width": 175, "height": 285,
   "resolve": {"axis": {"x": "independent", "y": "independent"}},
   "layer": [
    {"data": {"name": "spectra"}, "transform": [{"filter": "datum.panel === 'CsPb'"}],
     "mark": {"type": "line", "color": "#111", "strokeWidth": 1},
     "encoding": {
      "x": {"field": "energy", "type": "quantitative", "scale": {"domain": [0, 200], "nice": false},
            "axis": {"orient": "bottom", "title": "Energy (keV)", "titleFontWeight": "normal", "values": [0,10,20,30,40,50,60,70,80,90,100,110,120,130,140,150,160,170,180,190,200], "labelExpr": "datum.value % 100 === 0 ? datum.label : ''", "labelFlush": false, "labelOverlap": false, "tickSize": -3, "tickColor": "#555", "labelPadding": 6, "titlePadding": 3}},
      "y": {"field": "counts", "type": "quantitative", "scale": {"domain": [0, 1], "nice": false}, "axis": null}}},
    {"data": {"name": "spectra"}, "transform": [{"filter": "datum.panel === 'CsPb'"}],
     "mark": {"type": "line", "opacity": 0},
     "encoding": {
      "x": {"field": "energy", "type": "quantitative", "scale": {"domain": [0, 200], "nice": false},
            "axis": {"orient": "top", "title": null, "values": [0,10,20,30,40,50,60,70,80,90,100,110,120,130,140,150,160,170,180,190,200], "labels": false, "tickSize": -3, "tickColor": "#555"}},
      "y": {"field": "counts", "type": "quantitative", "scale": {"domain": [0, 1], "nice": false}, "axis": null}}},
    {"data": {"name": "labels"}, "transform": [{"filter": "datum.panel === 'CsPb'"}],
     "mark": {"type": "text", "align": "left", "baseline": "alphabetic", "fontSize": 18},
     "encoding": {
      "x": {"field": "x", "type": "quantitative", "scale": {"domain": [0, 200], "nice": false}, "axis": null},
      "y": {"field": "y", "type": "quantitative", "scale": {"domain": [0, 1], "nice": false}, "axis": null},
      "text": {"field": "main"}}},
    {"data": {"name": "labels"}, "transform": [{"filter": "datum.panel === 'CsPb'"}],
     "mark": {"type": "text", "align": "right", "baseline": "alphabetic", "fontSize": 11.5, "dy": -8.5},
     "encoding": {
      "x": {"field": "x", "type": "quantitative", "scale": {"domain": [0, 200], "nice": false}, "axis": null},
      "y": {"field": "y", "type": "quantitative", "scale": {"domain": [0, 1], "nice": false}, "axis": null},
      "text": {"field": "sup"}}},
    {"data": {"name": "peaks"}, "transform": [{"filter": "datum.panel === 'CsPb'"}],
     "mark": {"type": "text", "align": "left", "baseline": "alphabetic", "fontSize": 14.5},
     "encoding": {
      "x": {"field": "x", "type": "quantitative", "scale": {"domain": [0, 200], "nice": false}, "axis": null},
      "y": {"field": "y", "type": "quantitative", "scale": {"domain": [0, 1], "nice": false}, "axis": null},
      "text": {"field": "tag"}}}
   ]}
]
}
